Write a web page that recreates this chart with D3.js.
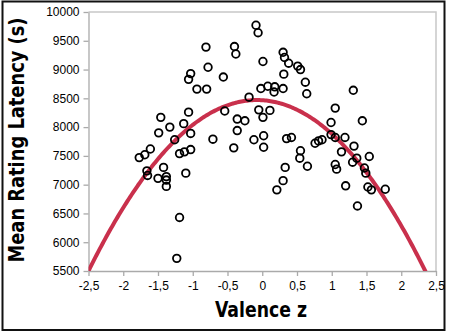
<!DOCTYPE html>
<html>
<head>
<meta charset="utf-8">
<script src="https://cdn.jsdelivr.net/npm/d3@7"></script>
<style>
    body { margin: 0; background: #fff; }
    .tick text { font-family: "Liberation Sans", Arial, sans-serif; font-size: 12px; fill: #000; }
    .axis path, .axis line { stroke: #aaa; stroke-width: 1.3; }
    .title { font-family: "DejaVu Sans", sans-serif; font-weight: bold; font-stretch: condensed; fill: #000; }
</style>
</head>
<body>
<div id="chart"></div>
<script>
// valence z scores and mean rating latencies (s) per item
const valence = [
    -0.09, -0.06, -0.81, -0.40, -0.38, 0.30, 0.32, 0.38, 0.51, 0.55,
    0.01, -0.78, -1.03, -1.06, 0.31, -0.56, 0.62, -0.94, -0.80, -0.02,
    0.08, 0.18, 0.17, 0.30, 0.64, -0.19, 1.31, 1.05, -0.54, -0.05,
    0.11, -1.06, -1.46, -0.36, -0.25, 0.01, -1.33, -1.13, -1.49, -1.03,
    -1.26, -0.71, -0.36, -0.41, -0.12, 0.02, 0.02, -1.77, -1.69, -1.61,
    -1.19, -1.12, -1.03, -1.66, -1.65, -1.42, -1.50, -1.38, -1.38, -1.38,
    -1.10, -1.19, -1.23, 0.35, 0.42, 0.55, 0.54, 0.65, 0.33, 0.30,
    0.21, 0.76, 0.81, 0.86, 0.99, 1.44, 0.99, 1.05, 1.19, 1.32,
    1.14, 1.36, 1.54, 1.30, 1.47, 1.05, 1.07, 1.49, 1.20, 1.52,
    1.57, 1.77, 1.37
];
const latency = [
    9770, 9640, 9390, 9400, 9270, 9300, 9210, 9110, 9060, 9000,
    9140, 9040, 8930, 8830, 8920, 8870, 8780, 8660, 8660, 8670,
    8710, 8700, 8610, 8670, 8580, 8520, 8640, 8330, 8280, 8300,
    8290, 8260, 8170, 8140, 8110, 8170, 8000, 8060, 7900, 7890,
    7780, 7790, 7940, 7640, 7780, 7850, 7650, 7470, 7520, 7620,
    7540, 7570, 7610, 7240, 7160, 7300, 7110, 7140, 7080, 6970,
    7200, 6430, 5720, 7800, 7820, 7590, 7460, 7320, 7300, 7070,
    6910, 7720, 7760, 7780, 8080, 8110, 7870, 7820, 7820, 7670,
    7570, 7460, 7490, 7390, 7290, 7350, 7270, 7200, 6980, 6960,
    6910, 6920, 6630
];

// quadratic fit: latency = c0 + c1*z + c2*z^2
const fitCoef = [8467, -78, -506];

const xTicks = [-2.5, -2, -1.5, -1, -0.5, 0, 0.5, 1, 1.5, 2, 2.5];
const yTicks = [5500, 6000, 6500, 7000, 7500, 8000, 8500, 9000, 9500, 10000];

const xTitle = "Valence z";
const yTitle = "Mean Rating Latency (s)";

const W = 454, H = 334;
const margin = {top: 12, right: 18, bottom: 63, left: 88.5};
const width = W - margin.left - margin.right;
const height = H - margin.top - margin.bottom;

const svg = d3.select("#chart").append("svg")
    .attr("width", W)
    .attr("height", H);

// outer frame
svg.append("rect")
    .attr("x", 2.5).attr("y", 1.5)
    .attr("width", 442).attr("height", 328.5)
    .attr("fill", "none")
    .attr("stroke", "#111")
    .attr("stroke-width", 2);

const g = svg.append("g")
    .attr("transform", `translate(${margin.left},${margin.top})`);

const x = d3.scaleLinear().domain([-2.5, 2.5]).range([0, width]);
const y = d3.scaleLinear().domain([5500, 10000]).range([height, 0]);

// top and right border of plot area
g.append("path")
    .attr("d", `M0,0H${width}V${height}`)
    .attr("fill", "none")
    .attr("stroke", "#c8c8c8")
    .attr("stroke-width", 1.5);

g.append("g")
    .attr("class", "axis")
    .attr("transform", `translate(0,${height})`)
    .call(d3.axisBottom(x).tickValues(xTicks).tickSizeInner(5).tickSizeOuter(0).tickPadding(5)
        .tickFormat(d => String(d).replace(".", ",")));

g.append("g")
    .attr("class", "axis")
    .call(d3.axisLeft(y).tickValues(yTicks).tickSizeInner(5).tickSizeOuter(0).tickPadding(4)
        .tickFormat(d => d));

// fitted curve
g.append("clipPath").attr("id", "clip")
    .append("rect").attr("width", width).attr("height", height);

const fitZ = d3.range(-2.5, 2.5001, 0.02);
const line = d3.line()
    .x(d => x(d))
    .y(d => y(fitCoef[0] + fitCoef[1] * d + fitCoef[2] * d * d));

g.append("path")
    .datum(fitZ)
    .attr("clip-path", "url(#clip)")
    .attr("fill", "none")
    .attr("stroke", "#c9304c")
    .attr("stroke-width", 4)
    .attr("d", line);

// points
g.selectAll(".pt")
    .data(valence.map((v, i) => ({z: v, lat: latency[i]})))
    .enter().append("circle")
    .attr("class", "pt")
    .attr("cx", d => x(d.z))
    .attr("cy", d => y(d.lat))
    .attr("r", 3.8)
    .attr("fill", "none")
    .attr("stroke", "#000")
    .attr("stroke-width", 1.8);

// axis titles
svg.append("text")
    .attr("class", "title")
    .attr("x", 261).attr("y", 317)
    .attr("text-anchor", "middle")
    .attr("textLength", 92)
    .attr("lengthAdjust", "spacingAndGlyphs")
    .style("font-size", "22px")
    .text(xTitle);

svg.append("text")
    .attr("class", "title")
    .attr("transform", "translate(24,140) rotate(-90)")
    .attr("text-anchor", "middle")
    .attr("textLength", 245)
    .attr("lengthAdjust", "spacingAndGlyphs")
    .style("font-size", "21px")
    .text(yTitle);
</script>
</body>
</html>
